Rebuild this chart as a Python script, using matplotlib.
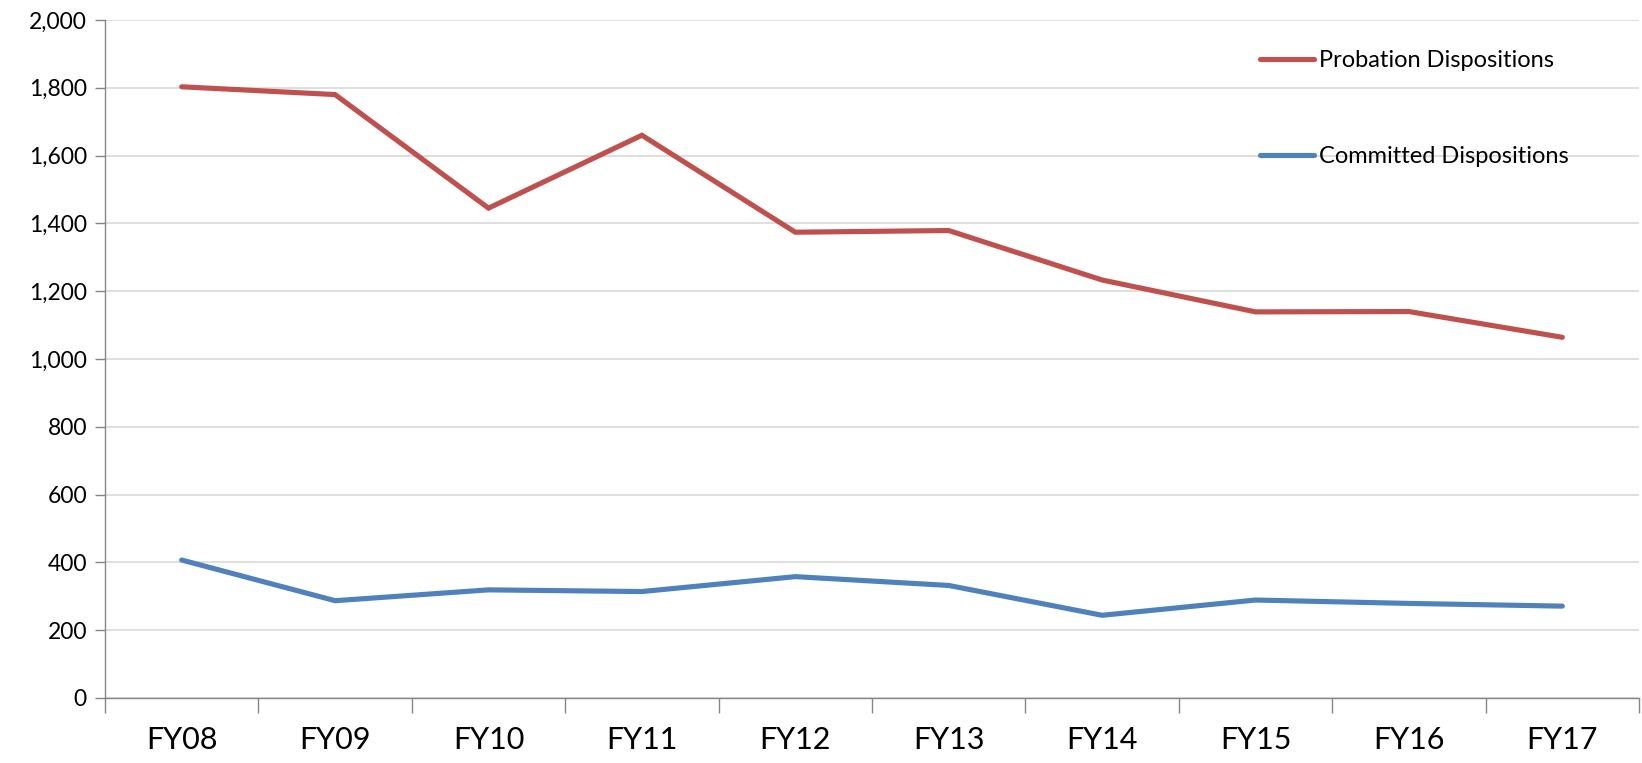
import matplotlib.pyplot as plt
import numpy as np
from matplotlib.ticker import FuncFormatter, MultipleLocator

# Data
years = ["FY08", "FY09", "FY10", "FY11", "FY12",
         "FY13", "FY14", "FY15", "FY16", "FY17"]
probation = [1803, 1780, 1445, 1660, 1374, 1379, 1233, 1139, 1140, 1064]
committed = [407, 287, 319, 314, 358, 332, 244, 289, 279, 271]

RED = "#C0504D"
BLUE = "#4F81BD"
AXIS_GREY = "#868686"
GRID_GREY = "#D9D9D9"

plt.rcParams["font.family"] = ["Lato", "DejaVu Sans"]

fig = plt.figure(figsize=(16.42, 7.63), dpi=100)
ax = fig.add_axes([105 / 1642, 1 - 698 / 763, (1639 - 105) / 1642, (698 - 20) / 763])

x = np.arange(len(years))
ax.plot(x, probation, color=RED, lw=3.7, solid_capstyle="round",
        solid_joinstyle="miter", label="Probation Dispositions", zorder=3)
ax.plot(x, committed, color=BLUE, lw=3.7, solid_capstyle="round",
        solid_joinstyle="miter", label="Committed Dispositions", zorder=3)

ax.set_xlim(-0.5, len(years) - 0.5)
ax.set_ylim(0, 2000)
ax.yaxis.set_major_locator(MultipleLocator(200))
ax.yaxis.set_major_formatter(FuncFormatter(lambda v, _: f"{int(v):,}"))
ax.grid(axis="y", color=GRID_GREY, lw=1.2, zorder=0)
ax.set_axisbelow(True)

# category labels centred, tick marks on the category boundaries
ax.set_xticks(x)
ax.set_xticklabels(years, fontsize=22)
ax.set_xticks(np.arange(-0.5, len(years)), minor=True)
ax.tick_params(axis="x", which="major", length=0, pad=20)
ax.tick_params(axis="x", which="minor", length=11, width=1, color=AXIS_GREY,
               direction="out")
ax.tick_params(axis="y", length=7, width=1, color=AXIS_GREY, pad=6,
               labelsize=16.5)

for side in ("top", "right"):
    ax.spines[side].set_visible(False)
for side in ("left", "bottom"):
    ax.spines[side].set_color(AXIS_GREY)
    ax.spines[side].set_linewidth(1)

leg = ax.legend(loc="upper left", bbox_to_anchor=(1248 / 1642, 1 - 38 / 763),
                bbox_transform=fig.transFigure, frameon=False, fontsize=17,
                handlelength=2.3, handletextpad=0.2, labelspacing=3.2,
                borderpad=0)

fig.savefig("out.png", dpi=100)
